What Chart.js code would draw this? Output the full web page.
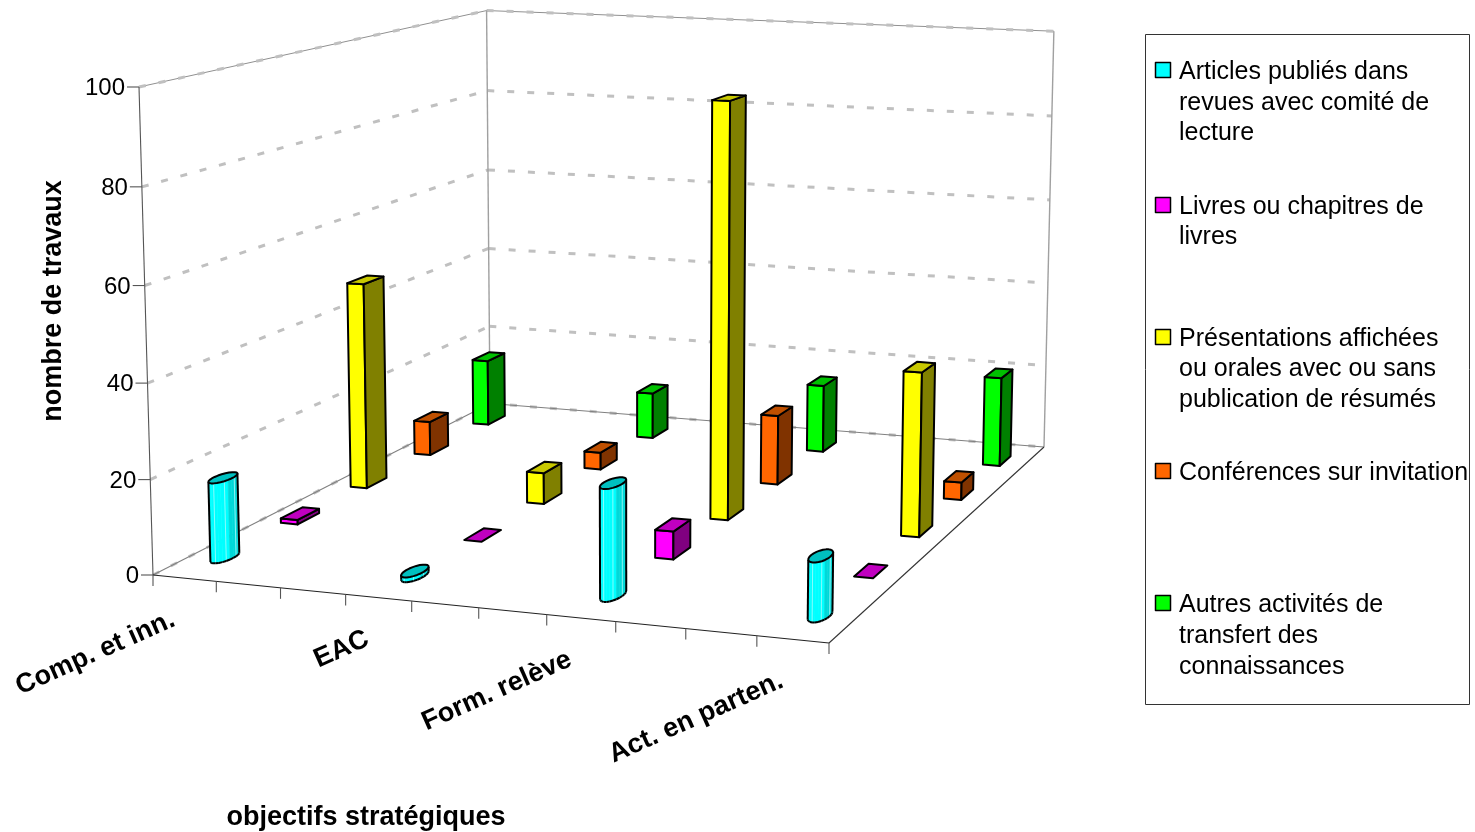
<!DOCTYPE html>
<html><head><meta charset="utf-8">
<script src="https://cdn.jsdelivr.net/npm/chart.js@4"></script>
<style>html,body{margin:0;padding:0;background:#fff}canvas{display:block}</style>
</head><body><canvas id="c" width="1475" height="832"></canvas>
<script>
const categories = ['Comp. et inn.','','','EAC','','','Form. relève','','','Act. en parten.'];
const articles    = [17,null,null,1,null,null,23,null,null,12];
const livres      = [1,null,null,0,null,null,6,null,null,0];
const presentations = [47,null,null,7,null,null,92,null,null,36];
const conferences = [8,null,null,4,null,null,16,null,null,4];
const autres      = [16,null,null,11,null,null,16,null,null,21];
const seriesNames = ['Articles publiés dans revues avec comité de lecture','Livres ou chapitres de livres','Présentations affichées ou orales avec ou sans publication de résumés','Conférences sur invitation','Autres activités de transfert des connaissances'];
const legendLines = [['Articles publiés dans','revues avec comité de','lecture'],['Livres ou chapitres de','livres'],['Présentations affichées','ou orales avec ou sans','publication de résumés'],['Conférences sur invitation'],['Autres activités de','transfert des','connaissances']];
const yTicksMax = 100, yStep = 20;
const faceColors = ['#00ffff','#ff00ff','#ffff00','#ff6600','#00ff00'];
const sideColors = ['#00d8d8','#800080','#808000','#803300','#008000'];
const topColors  = ['#00c0c0','#c000c0','#c8c800','#c05000','#00c000'];
const FONT = '"Liberation Sans", Arial, sans-serif';

// true projective map of the 3D box: floor quad plus a vertical vanishing term
function makeProjection(p00,p10,p11,p01,i3,e3x,e3y){
  const dx1=p10[0]-p11[0],dy1=p10[1]-p11[1],dx2=p01[0]-p11[0],dy2=p01[1]-p11[1];
  const sx=p00[0]-p10[0]+p11[0]-p01[0],sy=p00[1]-p10[1]+p11[1]-p01[1];
  const D=dx1*dy2-dx2*dy1,g=(sx*dy2-dx2*sy)/D,h=(dx1*sy-sx*dy1)/D;
  const a=p10[0]-p00[0]+g*p10[0],b=p01[0]-p00[0]+h*p01[0],d=p10[1]-p00[1]+g*p10[1],e=p01[1]-p00[1]+h*p01[1];
  return (u,v,z)=>{const w=g*u+h*v+1+i3*z;return [(a*u+b*v+p00[0]+e3x*z)/w,(d*u+e*v+p00[1]+e3y*z)/w];};
}
const persp=-0.028;
const pt = makeProjection([153,575],[829,643],[1044,447],[490,403.5],persp,139*(1+persp)-153,87*(1+persp)-575);

function poly(ctx,pts,fill,stroke,lw){
  ctx.beginPath();pts.forEach((p,i)=>i?ctx.lineTo(p[0],p[1]):ctx.moveTo(p[0],p[1]));ctx.closePath();
  if(fill){ctx.fillStyle=fill;ctx.fill();}
  if(stroke){ctx.strokeStyle=stroke;ctx.lineWidth=lw;ctx.lineJoin='round';ctx.stroke();}
}
function line(ctx,a,b,color,lw,dash){
  ctx.save();ctx.beginPath();ctx.moveTo(a[0],a[1]);ctx.lineTo(b[0],b[1]);ctx.strokeStyle=color;ctx.lineWidth=lw;ctx.setLineDash(dash||[]);ctx.stroke();ctx.restore();
}
function prism(ctx,uc,vc,hu,hv,z,s){
  const A=[uc-hu,vc-hv],B=[uc+hu,vc-hv],C=[uc+hu,vc+hv],D=[uc-hu,vc+hv];
  const b=q=>pt(q[0],q[1],0),t=q=>pt(q[0],q[1],z);
  if(z>0){
    poly(ctx,[b(A),b(B),t(B),t(A)],faceColors[s],'#000',2);
    poly(ctx,[b(B),b(C),t(C),t(B)],sideColors[s],'#000',2);
  }
  poly(ctx,[t(A),t(B),t(C),t(D)],topColors[s],'#000',2);
}
function cylinder(ctx,uc,vc,hu,hv,z,s){
  const N=24,base=[],top=[];
  for(let i=0;i<N;i++){const a=i/N*2*Math.PI,u=uc+hu*Math.cos(a),v=vc+hv*Math.sin(a);base.push(pt(u,v,0));top.push(pt(u,v,z));}
  const li=base.indexOf(base.reduce((m,p)=>p[0]<m[0]?p:m)),ri=base.indexOf(base.reduce((m,p)=>p[0]>m[0]?p:m));
  const vis=[];for(let i=li;i!==ri;i=(i+1)%N)vis.push(i);
  const left=base[li][0],right=base[ri][0];
  vis.forEach(i=>{const j=(i+1)%N,m=((base[i][0]+base[j][0])/2-left)/(right-left);
    const c=m<.65?faceColors[s]:sideColors[s];
    poly(ctx,[base[i],base[j],top[j],top[i]],c,c,.6);
  });
  vis.forEach((i,k)=>{if(k>0&&k%3===0)line(ctx,base[i],top[i],'#a8fafa',.8);});
  vis.forEach(i=>line(ctx,base[i],base[(i+1)%N],'#000',2));
  line(ctx,base[li],top[li],'#000',2);line(ctx,base[ri],top[ri],'#000',2);
  poly(ctx,top,topColors[s],'#000',2);
}

const scene3D = {
  id:'scene3D',
  beforeDatasetsDraw(chart){
    const ctx=chart.ctx,xS=chart.scales.x,yS=chart.scales.y;
    const zOf=val=>(yS.getPixelForValue(0)-yS.getPixelForValue(val))/(yS.getPixelForValue(0)-yS.getPixelForValue(yS.max));
    const uOf=i=>(xS.getPixelForValue(i)-xS.left)/xS.width;
    const nS=chart.data.datasets.length,nC=chart.data.labels.length;
    ctx.save();
    const topZ=zOf(yS.max);
    line(ctx,pt(0,0,topZ),pt(0,1,topZ),'#909090',1);
    line(ctx,pt(0,1,topZ),pt(1,1,topZ),'#909090',1);
    // walls gridlines
    yS.ticks.forEach(tk=>{
      const z=zOf(tk.value);
      line(ctx,pt(0,0,z),pt(0,1,z),'#c0c0c0',3,[7,13]);
      line(ctx,pt(0,1,z),pt(1,1,z),'#c0c0c0',3,[7,13]);
    });
    line(ctx,pt(0,0,0),pt(0,1,0),'#808080',1.1);
    line(ctx,pt(0,1,0),pt(1,1,0),'#808080',1.1);
    line(ctx,pt(0,1,0),pt(0,1,topZ),'#a0a0a0',1.4);
    line(ctx,pt(1,1,0),pt(1,1,topZ),'#a0a0a0',1.4);
    line(ctx,pt(0,0,0),pt(0,0,topZ),'#555',1.1);
    // floor front edges
    line(ctx,pt(0,0,0),pt(1,0,0),'#222',1.2);
    line(ctx,pt(1,0,0),pt(1,1,0),'#333',1.1);
    // x ticks
    for(let i=0;i<=nC;i++){
      const u=i/nC,p=pt(u,0,0);
      line(ctx,p,[p[0],p[1]+11],'#555',1.1);
    }
    // y ticks + labels
    ctx.font='24px '+FONT;ctx.fillStyle='#000';ctx.textAlign='right';ctx.textBaseline='middle';
    yS.ticks.forEach(tk=>{
      const p=pt(0,0,zOf(tk.value));
      line(ctx,[p[0]-12,p[1]],p,'#555',1.1);
      ctx.fillText(String(tk.value),p[0]-14,p[1]+1.5);
    });
    // category labels
    ctx.font='bold 27px '+FONT;ctx.textAlign='right';ctx.textBaseline='alphabetic';
    chart.data.labels.forEach((lab,i)=>{
      if(!lab)return;
      const p=pt(uOf(i),0,0);
      ctx.save();ctx.translate(p[0]-8,p[1]+47);ctx.rotate(-24*Math.PI/180);ctx.fillText(lab,0,0);ctx.restore();
    });
    // axis titles
    ctx.textAlign='center';
    ctx.fillText('objectifs stratégiques',366,825);
    ctx.save();ctx.translate(61,301);ctx.rotate(-Math.PI/2);ctx.fillText('nombre de travaux',0,0);ctx.restore();
    // bars back to front
    for(let s=nS-1;s>=0;s--){
      const data=chart.data.datasets[s].data;
      data.forEach((val,i)=>{
        if(val===null)return;
        const uc=uOf(i),vc=(s+.5)/nS,z=zOf(val);
        if(s===0)cylinder(ctx,uc,vc,.0135,.03,z,s);
        else prism(ctx,uc,vc,.014,.03,z,s);
      });
    }
    // legend
    ctx.strokeStyle='#333';ctx.lineWidth=1;
    ctx.strokeRect(1145.5,34.5,324,670);
    const rows=[[70,101,131],[205,235],[337,367,398],[471],[603,634,665]];
    ctx.font='25px '+FONT;ctx.textAlign='left';ctx.textBaseline='alphabetic';
    legendLines.forEach((lines,s)=>{
      ctx.fillStyle=faceColors[s];ctx.fillRect(1155.5,rows[s][0]-7.5,15,15);
      ctx.strokeStyle='#000';ctx.lineWidth=1.5;ctx.strokeRect(1155.5,rows[s][0]-7.5,15,15);
      ctx.fillStyle='#000';
      lines.forEach((t,k)=>ctx.fillText(t,1179,rows[s][k]+9));
    });
    ctx.restore();
    return false;
  }
};
const valueSeries=[articles,livres,presentations,conferences,autres];
new Chart(document.getElementById('c'),{
  type:'bar',
  data:{labels:categories,datasets:valueSeries.map((d,i)=>({label:seriesNames[i],data:d,backgroundColor:faceColors[i]}))},
  options:{responsive:false,animation:false,devicePixelRatio:1,
    layout:{padding:0},
    plugins:{legend:{display:false},tooltip:{enabled:false}},
    scales:{x:{display:false,type:'category'},y:{display:false,min:0,max:yTicksMax,ticks:{stepSize:yStep}}}
  },
  plugins:[scene3D]
});
</script></body></html>
